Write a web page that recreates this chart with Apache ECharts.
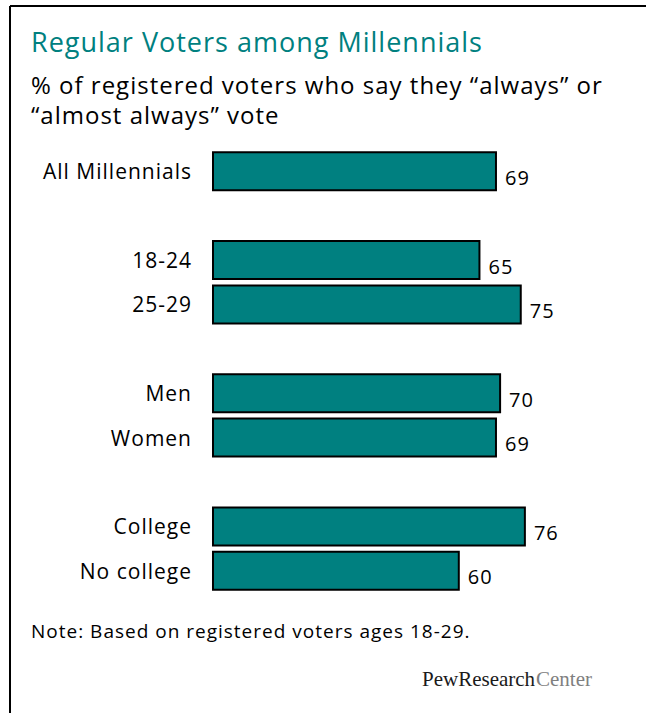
<!DOCTYPE html>
<html>
<head>
<meta charset="utf-8">
<script src="https://cdn.jsdelivr.net/npm/echarts@6/dist/echarts.min.js"></script>
<style>
html,body{margin:0;padding:0;background:#fff;}
#chart{width:646px;height:713px;}
#chart text{letter-spacing:1px;}
#chart text[style*="Serif"], #chart text[font-family*="Serif"]{letter-spacing:0;}
</style>
</head>
<body>
<div id="chart"></div>
<script>
var categories = ['All Millennials', '', '18-24', '25-29', '', 'Men', 'Women', '', 'College', 'No college'];
var values = [69, null, 65, 75, null, 70, 69, null, 76, 60];

var titleText = 'Regular Voters among Millennials';
var subtitleText = '% of registered voters who say they \u201calways\u201d or\n\u201calmost always\u201d vote';
var noteText = 'Note: Based on registered voters ages 18-29.';
var logoPart1 = 'PewResearch';
var logoPart2 = 'Center';

var FONT = 'Open Sans';
var chart = echarts.init(document.getElementById('chart'), null, {renderer: 'svg'});
chart.setOption({
  animation: false,
  backgroundColor: '#ffffff',
  grid: {left: 212, right: 21, top: 149, height: 444},
  xAxis: {
    type: 'value', min: 0, max: 100, show: false
  },
  yAxis: {
    type: 'category', data: categories, inverse: true,
    axisLine: {show: false}, axisTick: {show: false},
    axisLabel: {color: '#000', fontFamily: FONT, fontSize: 21, margin: 20, padding: [0, 0, 5, 0]}
  },
  series: [{
    type: 'bar',
    data: values,
    barCategoryGap: '10%',
    itemStyle: {color: '#008080', borderColor: '#000', borderWidth: 2},
    label: {
      show: true, position: 'right', distance: 8,
      color: '#000', fontFamily: FONT, fontSize: 20,
      offset: [0, 6]
    }
  }],
  graphic: [
    {type: 'line', shape: {x1: 10, y1: 6, x2: 646, y2: 6}, style: {stroke: '#000', lineWidth: 2}},
    {type: 'line', shape: {x1: 10, y1: 6, x2: 10, y2: 713}, style: {stroke: '#000', lineWidth: 2}},
    {type: 'text', left: 31, top: 28, style: {text: titleText, fill: '#00807f', font: '27px ' + FONT}},
    {type: 'text', left: 31, top: 69, style: {text: subtitleText, fill: '#000', font: '24px ' + FONT, lineHeight: 30}},
    {type: 'text', left: 31, top: 621, style: {text: noteText, fill: '#000', font: '19px ' + FONT}},
    {type: 'text', left: 422, top: 668, style: {text: logoPart1, fill: '#1a1a1a', font: '21px "Liberation Serif"'}},
    {type: 'text', left: 536, top: 668, style: {text: logoPart2, fill: '#808080', font: '21px "Liberation Serif"'}}
  ]
});
</script>
</body>
</html>
